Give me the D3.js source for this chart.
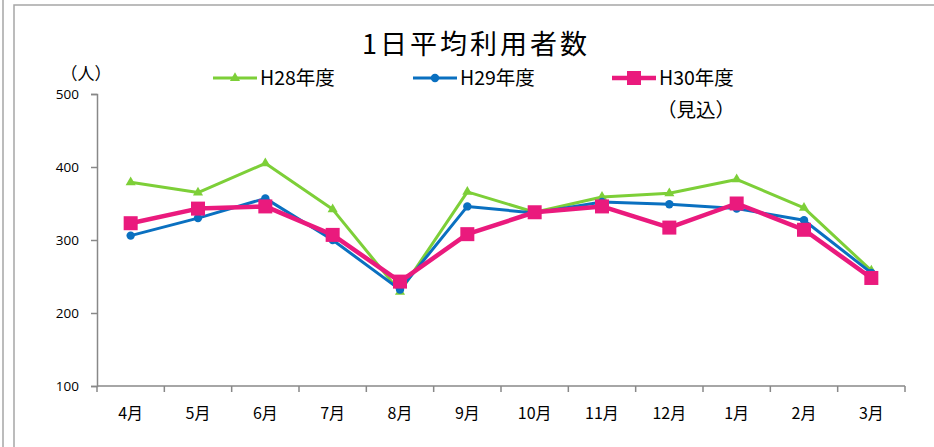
<!DOCTYPE html>
<html>
<head>
<meta charset="utf-8">
<script src="https://cdn.jsdelivr.net/npm/d3@7"></script>
<style>
  body { margin: 0; background: #fff; }
  svg { display: block; font-family: "Noto Sans CJK JP", "Noto Sans", sans-serif; }
</style>
</head>
<body>
<div id="chart"></div>
<script>
// months (fiscal year order)
var months = ["4月","5月","6月","7月","8月","9月","10月","11月","12月","1月","2月","3月"];
var h28 = [379, 365, 405, 342, 229, 366, 338, 359, 364, 383, 344, 258];
var h29 = [306, 330, 357, 300, 232, 346, 337, 352, 349, 343, 327, 255];
var h30 = [323, 343, 346, 307, 243, 308, 338, 346, 317, 350, 314, 248];
var yTicks = [100, 200, 300, 400, 500];

var series = [
  { label: "H28年度", values: h28, color: "#7dcf38", width: 3, marker: "triangle", size: 7 },
  { label: "H29年度", values: h29, color: "#0a70c0", width: 3, marker: "circle", size: 4.2 },
  { label: "H30年度", values: h30, color: "#ea1a7d", width: 4.5, marker: "square", size: 14 }
];

var W = 934, H = 447;
var svg = d3.select("#chart").append("svg")
  .attr("width", W).attr("height", H);

// outer frames
svg.append("line").attr("x1", 3).attr("x2", 3).attr("y1", 0).attr("y2", H)
  .attr("stroke", "#a6a6a6").attr("stroke-width", 1.5);
svg.append("path").attr("d", "M14," + H + "V5H" + W)
  .attr("fill", "none").attr("stroke", "#a6a6a6").attr("stroke-width", 1.5);

var x = d3.scaleBand().domain(months).range([97, 905]);
var y = d3.scaleLinear().domain([100, 500]).range([386, 94]);

// title
svg.append("text").attr("x", 476).attr("y", 54)
  .attr("text-anchor", "middle").attr("font-size", 27)
  .attr("letter-spacing", 3).attr("fill", "#000")
  .text("1日平均利用者数");

// y axis
var yAxis = svg.append("g").attr("transform", "translate(97,0)")
  .call(d3.axisLeft(y).tickValues(yTicks).tickSize(6).tickPadding(12));
yAxis.select(".domain").attr("stroke", "#888").attr("stroke-width", 1.5);
yAxis.selectAll(".tick line").attr("stroke", "#888").attr("stroke-width", 1.5);
yAxis.selectAll(".tick text").attr("font-size", 13.5).attr("fill", "#000")
  .attr("font-family", "'Open Sans', 'Noto Sans', sans-serif");

svg.append("text").attr("x", 86).attr("y", 80).attr("text-anchor", "middle")
  .attr("font-size", 17).attr("fill", "#000").text("（人）");

// x axis
var xAxis = svg.append("g").attr("transform", "translate(0,386)");
xAxis.append("line").attr("x1", 97).attr("x2", 905)
  .attr("stroke", "#888").attr("stroke-width", 1.5);
xAxis.selectAll(".xt").data(months.concat(["end"])).enter().append("line")
  .attr("x1", function(d, i) { return 97 + i * x.step(); })
  .attr("x2", function(d, i) { return 97 + i * x.step(); })
  .attr("y1", 0).attr("y2", 6)
  .attr("stroke", "#888").attr("stroke-width", 1.5);
xAxis.selectAll(".xl").data(months).enter().append("text")
  .attr("x", function(d) { return x(d) + x.bandwidth() / 2; })
  .attr("y", 33).attr("text-anchor", "middle")
  .attr("font-size", 16).attr("fill", "#000")
  .text(function(d) { return d; });

var cx = function(d, i) { return x(months[i]) + x.bandwidth() / 2; };

function drawMarker(g, s, px, py) {
  if (s.marker == "triangle") {
    g.append("path").attr("d", d3.symbol().type(d3.symbolTriangle).size(s.size * s.size * 0.9)())
      .attr("transform", "translate(" + px + "," + py + ")").attr("fill", s.color);
  } else if (s.marker == "circle") {
    g.append("circle").attr("cx", px).attr("cy", py).attr("r", s.size).attr("fill", s.color);
  } else {
    g.append("rect").attr("x", px - s.size / 2).attr("y", py - s.size / 2)
      .attr("width", s.size).attr("height", s.size).attr("fill", s.color);
  }
}

var line = d3.line().x(cx).y(function(d) { return y(d); });

series.forEach(function(s) {
  var g = svg.append("g");
  g.append("path").datum(s.values).attr("d", line)
    .attr("fill", "none").attr("stroke", s.color).attr("stroke-width", s.width)
    .attr("stroke-linejoin", "round");
  s.values.forEach(function(v, i) { drawMarker(g, s, cx(v, i), y(v)); });
});

// legend
var legendX = [213, 413, 612];
series.forEach(function(s, i) {
  var g = svg.append("g");
  var lx = legendX[i], ly = 78;
  g.append("line").attr("x1", lx).attr("x2", lx + 44).attr("y1", ly).attr("y2", ly)
    .attr("stroke", s.color).attr("stroke-width", s.width);
  drawMarker(g, s, lx + 22, ly);
  g.append("text").attr("x", lx + 47).attr("y", ly + 7)
    .attr("font-size", 19.5).attr("fill", "#000").text(s.label);
});
svg.append("text").attr("x", 657).attr("y", 117)
  .attr("font-size", 19.5).attr("fill", "#000").text("（見込）");
</script>
</body>
</html>
